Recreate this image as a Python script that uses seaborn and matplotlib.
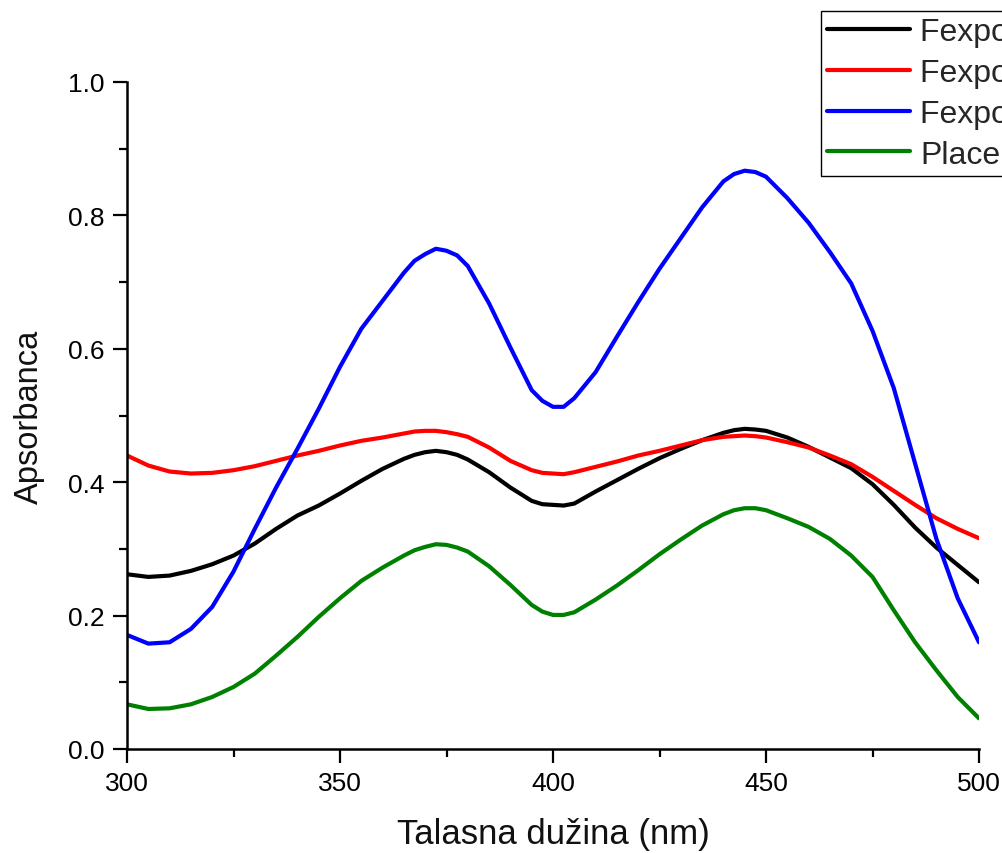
import numpy as np
import pandas as pd
import matplotlib
matplotlib.use("Agg")
import matplotlib.pyplot as plt
import seaborn as sns
from matplotlib.ticker import MultipleLocator

wavelength = [300, 305, 310, 315, 320, 325, 330, 335, 340, 345,
              350, 355, 360, 365, 367.5, 370, 372.5, 375, 377.5, 380,
              385, 390, 395, 397.5, 400, 402.5, 405, 410, 415, 420,
              425, 430, 435, 440, 442.5, 445, 447.5, 450, 455, 460,
              465, 470, 475, 480, 485, 490, 495, 500]

black_vals = [0.262, 0.258, 0.260, 0.267, 0.277, 0.290, 0.308, 0.330, 0.350, 0.365,
              0.383, 0.402, 0.420, 0.435, 0.441, 0.445, 0.447, 0.445, 0.441, 0.434,
              0.415, 0.392, 0.372, 0.367, 0.366, 0.365, 0.368, 0.386, 0.403, 0.420,
              0.436, 0.450, 0.463, 0.474, 0.478, 0.480, 0.479, 0.477, 0.467, 0.453,
              0.437, 0.421, 0.397, 0.366, 0.332, 0.302, 0.276, 0.250]
red_vals = [0.440, 0.425, 0.416, 0.413, 0.414, 0.418, 0.424, 0.432, 0.440, 0.447,
            0.455, 0.462, 0.467, 0.473, 0.476, 0.477, 0.477, 0.475, 0.472, 0.468,
            0.452, 0.432, 0.418, 0.414, 0.413, 0.412, 0.415, 0.423, 0.431, 0.440,
            0.447, 0.455, 0.463, 0.468, 0.469, 0.470, 0.469, 0.467, 0.460, 0.452,
            0.440, 0.427, 0.408, 0.387, 0.366, 0.346, 0.330, 0.316]
blue_vals = [0.171, 0.158, 0.160, 0.180, 0.213, 0.266, 0.330, 0.392, 0.450, 0.510,
             0.573, 0.630, 0.672, 0.714, 0.732, 0.742, 0.750, 0.747, 0.740, 0.724,
             0.668, 0.602, 0.538, 0.522, 0.513, 0.513, 0.526, 0.565, 0.618, 0.670,
             0.720, 0.766, 0.812, 0.851, 0.862, 0.867, 0.865, 0.858, 0.826, 0.789,
             0.745, 0.698, 0.627, 0.541, 0.428, 0.315, 0.226, 0.160]
green_vals = [0.067, 0.060, 0.061, 0.067, 0.078, 0.093, 0.113, 0.140, 0.168, 0.198,
              0.226, 0.252, 0.272, 0.290, 0.298, 0.303, 0.307, 0.306, 0.302, 0.296,
              0.274, 0.246, 0.216, 0.206, 0.201, 0.201, 0.205, 0.224, 0.245, 0.268,
              0.292, 0.314, 0.335, 0.352, 0.358, 0.361, 0.361, 0.358, 0.346, 0.333,
              0.315, 0.290, 0.258, 0.208, 0.160, 0.118, 0.078, 0.046]

series_names = ["Fexpo 1", "Fexpo 2", "Fexpo 3", "Placebo"]
series_vals = [black_vals, red_vals, blue_vals, green_vals]
colors = ["#000000", "#ff0000", "#0000ff", "#008000"]

x_ticks = [300, 350, 400, 450, 500]
y_ticks = [0.0, 0.2, 0.4, 0.6, 0.8, 1.0]

sns.set_theme(style="ticks")
plt.rcParams["font.family"] = ["Liberation Sans", "DejaVu Sans"]

fig = plt.figure(figsize=(10.03, 8.54), dpi=100)
ax = fig.add_axes([127 / 1003, 1 - 750 / 854, (979 - 127) / 1003, (750 - 83) / 854])

for name, vals, col in zip(series_names, series_vals, colors):
    df = pd.DataFrame({"x": wavelength, "y": vals})
    sns.lineplot(data=df, x="x", y="y", ax=ax, color=col, linewidth=3.0,
                 label=name, legend=False)

ax.set_xlim(300, 500)
ax.set_ylim(0, 1.0)
ax.set_xticks(x_ticks)
ax.set_yticks(y_ticks)
ax.set_xticklabels([str(v) for v in x_ticks])
ax.set_yticklabels([f"{v:.1f}" for v in y_ticks])
ax.xaxis.set_minor_locator(MultipleLocator(25))
ax.yaxis.set_minor_locator(MultipleLocator(0.1))

for side in ["top", "right"]:
    ax.spines[side].set_visible(False)
for side in ["left", "bottom"]:
    ax.spines[side].set_linewidth(1.8)
    ax.spines[side].set_color("black")

ax.tick_params(axis="both", which="major", direction="out", length=10, width=1.6,
               labelsize=19, pad=6, colors="black")
ax.tick_params(axis="both", which="minor", direction="out", length=6, width=1.6,
               colors="black")

ax.set_xlabel("Talasna dužina (nm)", fontsize=25, labelpad=16, color="#111111")
ax.set_ylabel("Apsorbanca", fontsize=23.5, labelpad=17, color="#111111")

handles, labels = ax.get_legend_handles_labels()
leg = ax.legend(handles, labels, loc="upper left",
                bbox_to_anchor=(821 / 1003, 1 - 12 / 854),
                bbox_transform=fig.transFigure, borderaxespad=0,
                fontsize=23, frameon=True, fancybox=False, edgecolor="black",
                framealpha=1, handlelength=2.6, handletextpad=0.31,
                labelspacing=0.34, borderpad=0.19)
leg.get_frame().set_linewidth(1.0)
for line in leg.get_lines():
    line.set_linewidth(3.0)

ax.grid(False)
fig.savefig("out.png", dpi=100)
